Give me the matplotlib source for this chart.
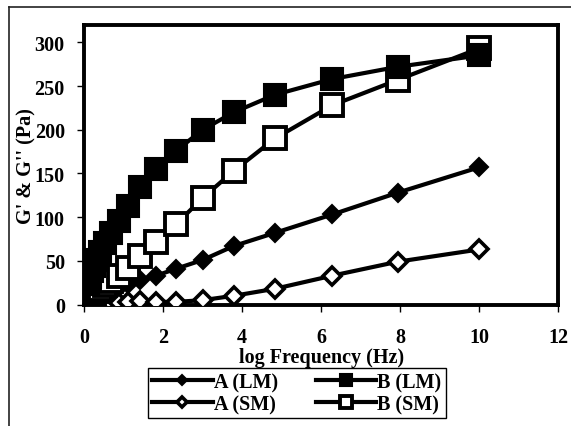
import matplotlib
matplotlib.use("Agg")
import matplotlib.pyplot as plt
from matplotlib.lines import Line2D

plt.rcParams['font.family'] = ['Liberation Serif', 'DejaVu Serif']
plt.rcParams['font.weight'] = 'bold'

# frequency sweep (Hz)
freq = [0.10, 0.12, 0.15, 0.20, 0.25, 0.32, 0.41, 0.53, 0.68, 0.87,
        1.11, 1.42, 1.82, 2.33, 3.00, 3.79, 4.83, 6.28, 7.94, 10.0]

a_lm = [4, 5, 6, 7, 8, 10, 12, 14, 17, 20,
        24, 28, 33, 41, 51, 67, 82, 103, 128, 157]
a_sm = [0, 0, 0, 1, 1, 1, 1, 2, 2, 2,
        3, 4, 3, 3, 5, 10, 18, 33, 49, 63]
b_lm = [24, 27, 32, 38, 44, 51, 60, 70, 82, 96,
        113, 134, 155, 176, 200, 220, 240, 258, 272, 285]
b_sm = [6, 7, 8, 10, 12, 15, 18, 22, 27, 33,
        42, 55, 71, 92, 122, 153, 190, 228, 257, 293]

xticks = [0, 2, 4, 6, 8, 10, 12]
yticks = [0, 50, 100, 150, 200, 250, 300]

fs = 14.5

fig = plt.figure(figsize=(5.71, 4.27), dpi=100)
ax = fig.add_axes([0.1475, 0.2845, 0.830, 0.655])

lw = 3.0
ax.plot(freq, a_lm, color='black', lw=lw, marker='D', ms=9.5,
        mfc='black', mec='black', mew=1.5, label='A (LM)', zorder=3)
ax.plot(freq, a_sm, color='black', lw=lw, marker='D', ms=9.5,
        mfc='white', mec='black', mew=2.6, label='A (SM)', zorder=3)
ax.plot(freq, b_sm, color='black', lw=lw, marker='s', ms=15.5,
        mfc='white', mec='black', mew=2.8, label='B (SM)', zorder=4)
ax.plot(freq, b_lm, color='black', lw=lw, marker='s', ms=16.5,
        mfc='black', mec='black', mew=1.5, label='B (LM)', zorder=5)

ax.set_xlim(0, 12)
ax.set_ylim(0, 320)
ax.set_xticks(xticks)
ax.set_yticks(yticks)
ax.tick_params(axis='x', direction='out', length=5, width=1, pad=11, labelsize=fs)
ax.tick_params(axis='y', direction='out', length=5, width=1, pad=9, labelsize=fs)
for s in ax.spines.values():
    s.set_linewidth(2.8)
for lab in ax.get_xticklabels() + ax.get_yticklabels():
    lab.set_fontweight('bold')

ax.set_xlabel('log Frequency (Hz)', fontsize=fs, fontweight='bold', labelpad=0)
ax.set_ylabel("G' & G'' (Pa)", fontsize=fs, fontweight='bold')
ax.yaxis.set_label_coords(-0.10, 0.5)

handles, labels = ax.get_legend_handles_labels()
order = [0, 1, 3, 2]
leg = fig.legend([handles[i] for i in order], [labels[i] for i in order],
                 loc='center', bbox_to_anchor=(0.52, 0.077), ncol=2,
                 fontsize=fs, markerscale=0.55, handlelength=3.0,
                 columnspacing=1.9, handletextpad=0.05, labelspacing=0.1,
                 borderpad=0.2, fancybox=False, framealpha=1)
leg.get_frame().set_edgecolor('black')
leg.get_frame().set_linewidth(1.0)

# outer chart border (left and top edges)
fig.add_artist(Line2D([9 / 571, 9 / 571], [0, 1 - 8 / 427],
                      transform=fig.transFigure, color='#222222', lw=1.2))
fig.add_artist(Line2D([9 / 571, 1], [1 - 8 / 427, 1 - 8 / 427],
                      transform=fig.transFigure, color='#222222', lw=1.2))

fig.savefig('out.png', dpi=100)
